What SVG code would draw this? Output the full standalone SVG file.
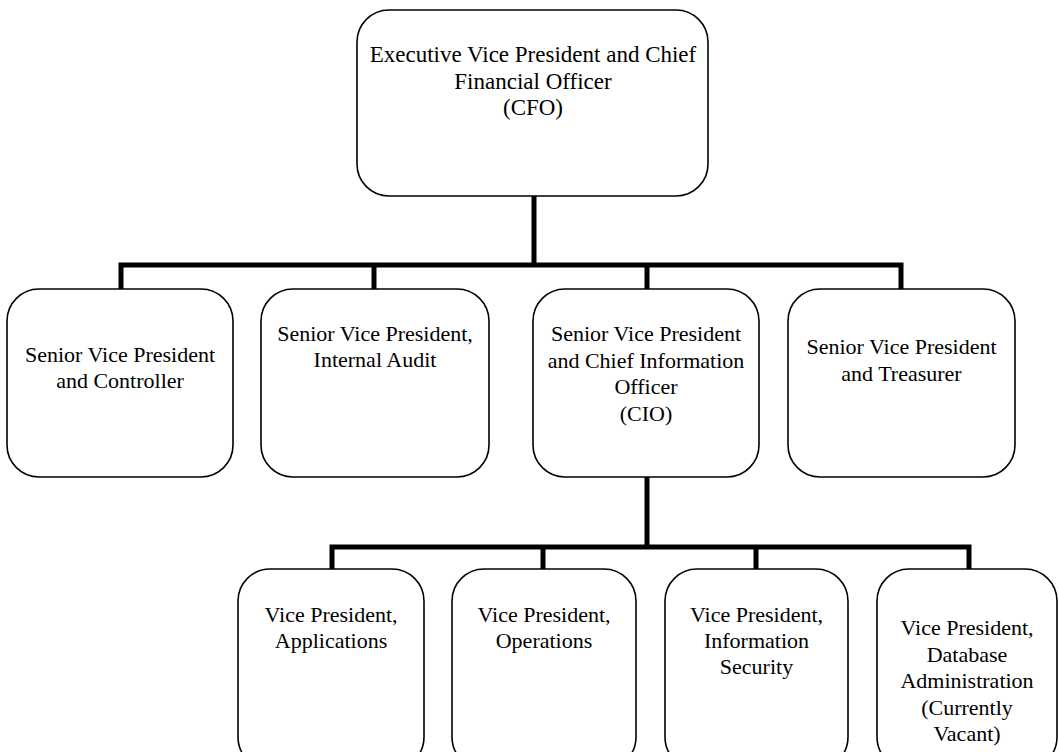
<svg xmlns="http://www.w3.org/2000/svg" width="1059" height="752" viewBox="0 0 1059 752">
<style>
.box{fill:#fff;stroke:#000;stroke-width:1.6}
.conn{fill:none;stroke:#000;stroke-width:5;stroke-linecap:square}
text{font-family:"Liberation Serif","Times New Roman",serif;font-size:22px;fill:#000;text-anchor:middle}
.big{font-size:23px}
</style>
<rect width="1059" height="752" fill="#fff"/>
<g id="connectors">
<path class="conn" d="M534 197V265M121 265H901M121 265V289M374 265V289M647 265V289M901 265V289"/>
<path class="conn" d="M647 478V547M332 547H969M332 547V569M543 547V569M756 547V569M969 547V569"/>
</g>
<g id="cfo">
<rect class="box" x="357" y="10" width="351" height="186" rx="32"/>
<text class="big" x="533" y="62">Executive Vice President and Chief</text>
<text class="big" x="533" y="88.5">Financial Officer</text>
<text class="big" x="533" y="115">(CFO)</text>
</g>
<g id="controller">
<rect class="box" x="7" y="289" width="226" height="188" rx="32"/>
<text x="120" y="362">Senior Vice President</text>
<text x="120" y="388">and Controller</text>
</g>
<g id="audit">
<rect class="box" x="261" y="289" width="228" height="188" rx="32"/>
<text x="375" y="341">Senior Vice President,</text>
<text x="375" y="367">Internal Audit</text>
</g>
<g id="cio">
<rect class="box" x="533" y="289" width="226" height="188" rx="32"/>
<text x="646" y="341">Senior Vice President</text>
<text x="646" y="367.5">and Chief Information</text>
<text x="646" y="394">Officer</text>
<text x="646" y="420.5">(CIO)</text>
</g>
<g id="treasurer">
<rect class="box" x="788" y="289" width="227" height="188" rx="32"/>
<text x="901.5" y="354">Senior Vice President</text>
<text x="901.5" y="380.5">and Treasurer</text>
</g>
<g id="applications">
<rect class="box" x="238" y="569" width="186" height="200" rx="32"/>
<text x="331" y="622">Vice President,</text>
<text x="331" y="648">Applications</text>
</g>
<g id="operations">
<rect class="box" x="452" y="569" width="184" height="200" rx="32"/>
<text x="544" y="622">Vice President,</text>
<text x="544" y="648">Operations</text>
</g>
<g id="security">
<rect class="box" x="665" y="569" width="183" height="200" rx="32"/>
<text x="756.5" y="622">Vice President,</text>
<text x="756.5" y="648">Information</text>
<text x="756.5" y="674">Security</text>
</g>
<g id="database">
<rect class="box" x="877" y="569" width="180" height="200" rx="32"/>
<text x="967" y="635">Vice President,</text>
<text x="967" y="661.5">Database</text>
<text x="967" y="688">Administration</text>
<text x="967" y="714.5">(Currently</text>
<text x="967" y="741">Vacant)</text>
</g>
</svg>
